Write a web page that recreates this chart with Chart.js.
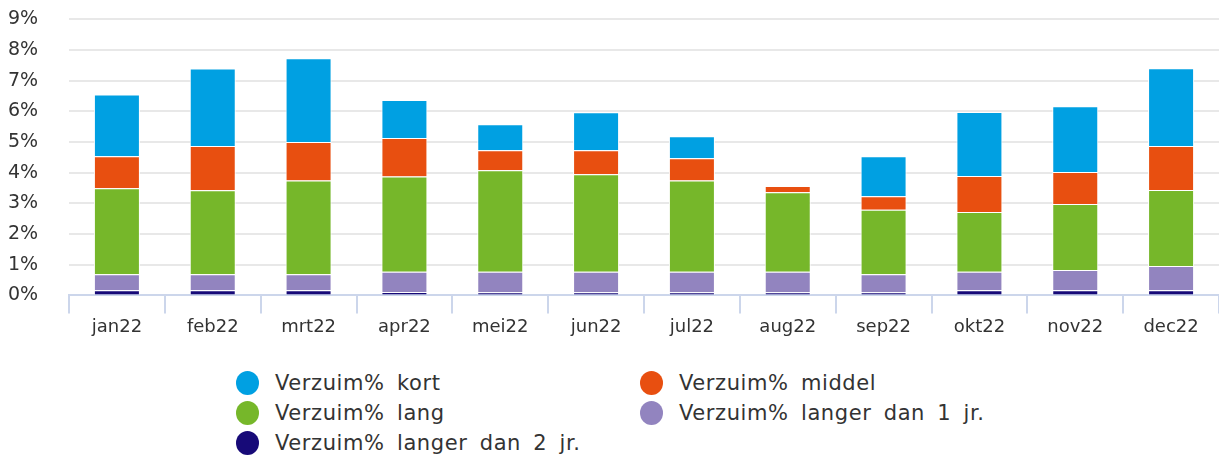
<!DOCTYPE html>
<html>
<head>
<meta charset="utf-8">
<script src="https://cdn.jsdelivr.net/npm/chart.js@4"></script>
<style>
  body { margin: 0; background: #fff; font-family: "DejaVu Sans", sans-serif; }
  #wrap { position: relative; width: 1219px; height: 459px; }
  #box { position: absolute; left: 0; top: 0; width: 1219px; height: 345px; }
  #legend { position: absolute; left: 236px; top: 371px; display: grid;
    grid-template-columns: 404px 400px; row-gap: 6px; color: #333; font-size: 21px;
    letter-spacing: 0.6px; word-spacing: 5px; }
  .item { display: flex; align-items: center; height: 24px; white-space: pre; }
  .dot { width: 23px; height: 24px; border-radius: 50%; margin-right: 16px; flex: none; }
</style>
</head>
<body>
<div id="wrap">
  <div id="box"><canvas id="verzuimChart"></canvas></div>
  <div id="legend"></div>
</div>
<script>
const months = ['jan22', 'feb22', 'mrt22', 'apr22', 'mei22', 'jun22', 'jul22', 'aug22', 'sep22', 'okt22', 'nov22', 'dec22'];
const langer2 = [0.17, 0.17, 0.17, 0.11, 0.10, 0.10, 0.10, 0.10, 0.10, 0.17, 0.17, 0.17];
const langer1 = [0.52, 0.52, 0.52, 0.66, 0.67, 0.67, 0.67, 0.67, 0.59, 0.60, 0.66, 0.79];
const lang = [2.80, 2.74, 3.06, 3.11, 3.31, 3.18, 2.98, 2.59, 2.10, 1.95, 2.15, 2.48];
const middel = [1.05, 1.44, 1.25, 1.25, 0.65, 0.78, 0.72, 0.21, 0.44, 1.17, 1.04, 1.43];
const kort = [2.01, 2.53, 2.73, 1.24, 0.85, 1.24, 0.72, 0, 1.31, 2.09, 2.15, 2.54];
const yTicks = [0, 1, 2, 3, 4, 5, 6, 7, 8, 9];

const chart = new Chart(verzuimChart, {
  type: 'bar',
  data: {
    labels: months,
    datasets: [
      { label: 'Verzuim% langer dan 2 jr.', data: langer2, backgroundColor: '#170a78' },
      { label: 'Verzuim% langer dan 1 jr.', data: langer1, backgroundColor: '#9284bf' },
      { label: 'Verzuim% lang', data: lang, backgroundColor: '#76b72a' },
      { label: 'Verzuim% middel', data: middel, backgroundColor: '#e84f10' },
      { label: 'Verzuim% kort', data: kort, backgroundColor: '#00a0e2' }
    ]
  },
  options: {
    responsive: true,
    maintainAspectRatio: false,
    animation: false,
    layout: { padding: { left: 8, right: 0, top: 0, bottom: 4 } },
    datasets: {
      bar: { borderColor: '#ffffff', borderWidth: 1, categoryPercentage: 1, barPercentage: 0.48 }
    },
    plugins: { legend: { display: false }, tooltip: { enabled: false } },
    scales: {
      x: {
        stacked: true,
        grid: { offset: true, drawOnChartArea: false, color: '#ccd6eb', lineWidth: 2, tickLength: 18 },
        border: { color: '#ccd6eb', width: 2 },
        ticks: { color: '#333', font: { family: 'DejaVu Sans', size: 18 }, padding: 3 }
      },
      y: {
        stacked: true,
        min: yTicks[0],
        max: yTicks[yTicks.length - 1],
        afterBuildTicks: axis => { axis.ticks = yTicks.map(v => ({ value: v })); },
        afterFit: axis => { axis.width = 61; },
        grid: { color: '#e8e8e8', lineWidth: 2, drawTicks: false },
        border: { display: false },
        ticks: { color: '#333', font: { family: 'DejaVu Sans', size: 19 }, padding: 8,
          crossAlign: 'far', callback: v => v + '%' }
      }
    }
  }
});

// legend in the same order as the picture: top of the stack first
const legendBox = document.getElementById('legend');
for (const ds of chart.data.datasets.slice().reverse()) {
  const item = document.createElement('div');
  item.className = 'item';
  const dot = document.createElement('span');
  dot.className = 'dot';
  dot.style.background = ds.backgroundColor;
  item.appendChild(dot);
  item.appendChild(document.createTextNode(ds.label));
  legendBox.appendChild(item);
}
</script>
</body>
</html>
